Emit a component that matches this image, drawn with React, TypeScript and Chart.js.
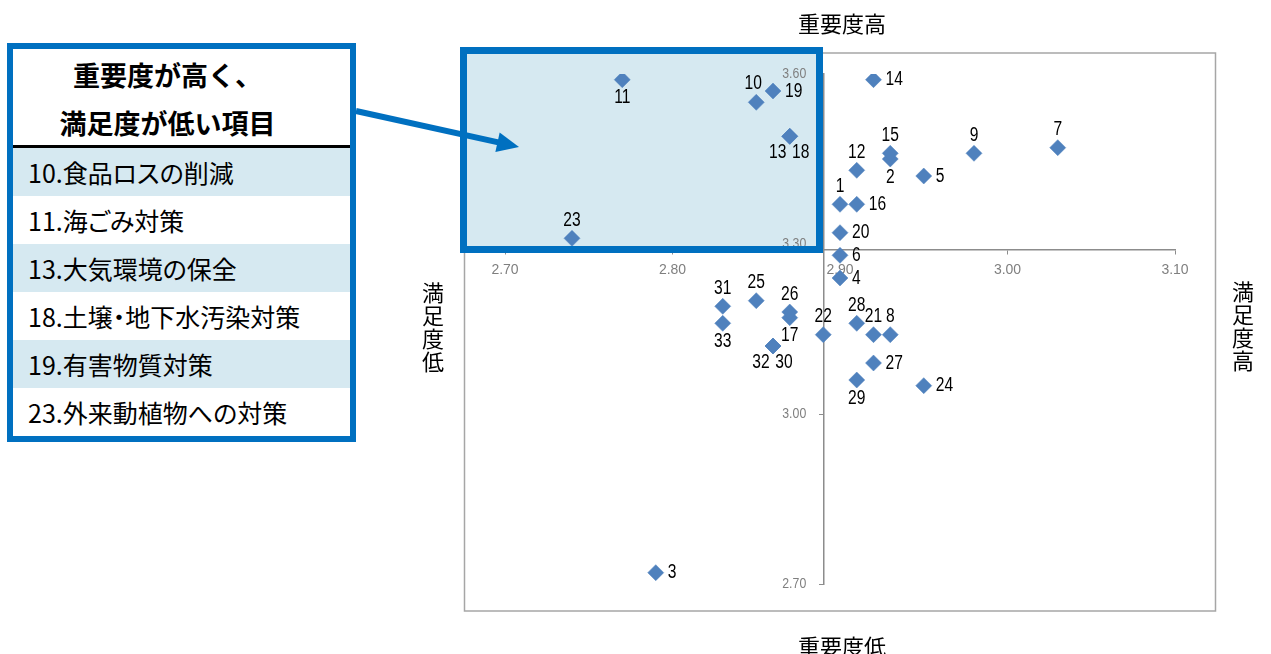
import React, { useEffect, useRef } from "react";
import { Chart, registerables } from "chart.js";

Chart.register(...registerables);

// ---- data ----
const itemIds = [
  1, 2, 3, 4, 5, 6, 7, 8, 9, 10, 11, 12, 13, 14, 15, 16, 17,
  18, 19, 20, 21, 22, 23, 24, 25, 26, 27, 28, 29, 30, 31, 32, 33,
];
// 重要度 (x)
const importance = [
  2.9, 2.93, 2.79, 2.9, 2.95, 2.9, 3.03, 2.93, 2.98, 2.85, 2.77, 2.91, 2.87, 2.92, 2.93, 2.91, 2.87,
  2.87, 2.86, 2.9, 2.92, 2.89, 2.74, 2.95, 2.85, 2.87, 2.92, 2.91, 2.91, 2.86, 2.83, 2.86, 2.83,
];
// 満足度 (y)
const satisfaction = [
  3.37, 3.45, 2.72, 3.24, 3.42, 3.28, 3.47, 3.14, 3.46, 3.55, 3.59, 3.43, 3.49, 3.59, 3.46, 3.37, 3.17,
  3.49, 3.57, 3.32, 3.14, 3.14, 3.31, 3.05, 3.2, 3.18, 3.09, 3.16, 3.06, 3.12, 3.19, 3.12, 3.16,
];
// where each number label sits relative to its marker
const labelPlacement = [
  "t", "b", "r", "r", "r", "r", "t", "t", "t", "tl", "b", "t", "bl", "r", "t", "r", "b",
  "br", "r", "r", "t", "t", "t", "r", "t", "t", "r", "t", "b", "br", "t", "bl", "b",
];
const xMin = 2.7;
const xMax = 3.1;
const xStep = 0.1;
const yMin = 2.7;
const yMax = 3.6;
const yStep = 0.3;
const xCross = 2.89; // where the vertical axis crosses
const yCross = 3.29; // where the horizontal axis crosses

const topTitle = "重要度高";
const bottomTitle = "重要度低";
const leftTitle = "満足度低";
const rightTitle = "満足度高";
const tableHeader = ["重要度が高く、", "満足度が低い項目"];
const tableItems = [
  "10.食品ロスの削減",
  "11.海ごみ対策",
  "13.大気環境の保全",
  "18.土壌・地下水汚染対策",
  "19.有害物質対策",
  "23.外来動植物への対策",
];

// ---- styles ----
const BLUE = "#0070C0";
const LIGHT = "#D6E9F1";
const MARKER = "#4F81BD";
const AXIS = "#8C8C8C";
const TICK_COLOR = "#7F7F7F";
const SANS = "'Liberation Sans', Arial, sans-serif";
const CJK = "'Noto Sans CJK JP', 'Noto Sans', sans-serif";

const offsets: Record<string, { dx: number; dy: number; align: CanvasTextAlign }> = {
  t: { dx: 0, dy: -18, align: "center" },
  b: { dx: 0, dy: 18, align: "center" },
  r: { dx: 12, dy: 0, align: "left" },
  tl: { dx: -3, dy: -19, align: "center" },
  bl: { dx: -12, dy: 16, align: "center" },
  br: { dx: 11, dy: 16, align: "center" },
};

function narrowText(ctx: CanvasRenderingContext2D, text: string, x: number, y: number, sx: number) {
  ctx.save();
  ctx.translate(x, y);
  ctx.scale(sx, 1);
  ctx.fillText(text, 0, 0);
  ctx.restore();
}

const decorPlugin = {
  id: "decor",
  beforeDraw(chart: any) {
    const ctx = chart.ctx as CanvasRenderingContext2D;
    ctx.save();
    ctx.strokeStyle = "#A6A6A6";
    ctx.lineWidth = 1.5;
    ctx.strokeRect(464.5, 53, 751, 558);
    ctx.fillStyle = LIGHT;
    ctx.fillRect(460, 47, 363, 206);
    ctx.restore();
  },
  afterDatasetsDraw(chart: any) {
    const ctx = chart.ctx as CanvasRenderingContext2D;
    ctx.save();
    // y tick labels, left of the crossing vertical axis
    const ys = chart.scales.y;
    const axisX = chart.scales.x.getPixelForValue(xCross);
    ctx.fillStyle = TICK_COLOR;
    ctx.font = `14px ${SANS}`;
    ctx.textAlign = "right";
    ctx.textBaseline = "middle";
    ys.ticks.forEach((t: any) => {
      narrowText(ctx, Number(t.value).toFixed(2), axisX - 17, ys.getPixelForValue(t.value), 0.88);
    });
    // point number labels
    const meta = chart.getDatasetMeta(0);
    ctx.fillStyle = "#000";
    ctx.font = `20px ${SANS}`;
    meta.data.forEach((pt: any, i: number) => {
      const o = offsets[labelPlacement[i]];
      ctx.textAlign = o.align;
      narrowText(ctx, String(itemIds[i]), pt.x + o.dx, pt.y + o.dy, 0.78);
    });
    ctx.restore();
  },
  afterDraw(chart: any) {
    const ctx = chart.ctx as CanvasRenderingContext2D;
    ctx.save();
    // highlight frame
    ctx.strokeStyle = BLUE;
    ctx.lineWidth = 7;
    ctx.strokeRect(463.5, 50.5, 356, 199);
    // arrow
    const x1 = 356, y1 = 111, x2 = 519, y2 = 147;
    const ang = Math.atan2(y2 - y1, x2 - x1);
    const headLen = 22, headHalf = 10;
    const bx = x2 - headLen * Math.cos(ang);
    const by = y2 - headLen * Math.sin(ang);
    ctx.lineWidth = 6;
    ctx.beginPath();
    ctx.moveTo(x1, y1);
    ctx.lineTo(bx + 2 * Math.cos(ang), by + 2 * Math.sin(ang));
    ctx.stroke();
    ctx.fillStyle = BLUE;
    ctx.beginPath();
    ctx.moveTo(x2, y2);
    ctx.lineTo(bx - headHalf * Math.sin(ang), by + headHalf * Math.cos(ang));
    ctx.lineTo(bx + headHalf * Math.sin(ang), by - headHalf * Math.cos(ang));
    ctx.closePath();
    ctx.fill();
    ctx.restore();
  },
};

function VerticalTitle({ text, cx, top }: { text: string; cx: number; top: number }) {
  return (
    <div
      style={{
        position: "absolute",
        left: cx - 15,
        top,
        width: 30,
        textAlign: "center",
        fontFamily: CJK,
        fontSize: 22,
        lineHeight: "23px",
        color: "#000",
      }}
    >
      {text.split("").map((c, i) => (
        <div key={i}>{c}</div>
      ))}
    </div>
  );
}

export default function App() {
  const ref = useRef<HTMLCanvasElement>(null);
  useEffect(() => {
    const chart = new Chart(ref.current as HTMLCanvasElement, {
      type: "scatter",
      data: {
        datasets: [
          {
            data: importance.map((x, i) => ({ x, y: satisfaction[i] })),
            pointStyle: "rectRot",
            pointRadius: 8,
            backgroundColor: MARKER,
            borderColor: MARKER,
            borderWidth: 0.5,
          },
        ],
      },
      options: {
        responsive: false,
        animation: false,
        devicePixelRatio: 1,
        layout: { padding: { left: 505, right: 96, top: 74, bottom: 70 } },
        plugins: { legend: { display: false }, tooltip: { enabled: false } },
        scales: {
          x: {
            type: "linear",
            min: xMin,
            max: xMax,
            position: { y: yCross } as any,
            ticks: {
              stepSize: xStep,
              callback: (v: any) => Number(v).toFixed(2),
              font: { family: SANS, size: 14 },
              color: TICK_COLOR,
              padding: 8,
              maxRotation: 0,
            },
            grid: { drawOnChartArea: false, drawTicks: true, tickLength: 4, color: AXIS },
            border: { color: AXIS, width: 1.5 },
          },
          y: {
            type: "linear",
            min: yMin,
            max: yMax,
            position: { x: xCross } as any,
            ticks: { stepSize: yStep, display: false },
            grid: { drawOnChartArea: false, drawTicks: true, tickLength: 4, color: AXIS },
            border: { color: AXIS, width: 1.5 },
          },
        },
      },
      plugins: [decorPlugin],
    });
    return () => chart.destroy();
  }, []);

  return (
    <div style={{ position: "absolute", left: 0, top: 0, width: 1271, height: 654, overflow: "hidden", background: "#fff" }}>
      <canvas ref={ref} width={1271} height={654} style={{ position: "absolute", left: 0, top: 0, width: 1271, height: 654 }} />
      <div style={{ position: "absolute", left: 792, top: 9, width: 100, textAlign: "center", fontFamily: CJK, fontSize: 22, lineHeight: "26px" }}>
        {topTitle}
      </div>
      <div style={{ position: "absolute", left: 792, top: 632, width: 100, textAlign: "center", fontFamily: CJK, fontSize: 22, lineHeight: "26px" }}>
        {bottomTitle}
      </div>
      <VerticalTitle text={leftTitle} cx={433} top={280} />
      <VerticalTitle text={rightTitle} cx={1243} top={279} />
      <div
        style={{
          position: "absolute",
          left: 7,
          top: 43,
          width: 349,
          height: 399,
          boxSizing: "border-box",
          border: `6px solid ${BLUE}`,
          background: "#fff",
          fontFamily: CJK,
          color: "#000",
        }}
      >
        <div style={{ height: 96, borderBottom: "3px solid #000", textAlign: "center", fontWeight: 700, fontSize: 27, paddingRight: 28 }}>
          <div style={{ height: 52, lineHeight: "52px" }}>{tableHeader[0]}</div>
          <div style={{ height: 44, lineHeight: "44px" }}>{tableHeader[1]}</div>
        </div>
        {tableItems.map((t, i) => (
          <div
            key={i}
            style={{
              height: 48,
              lineHeight: "48px",
              fontSize: 25,
              paddingLeft: 15,
              background: i % 2 === 0 ? LIGHT : "#fff",
              whiteSpace: "nowrap",
              fontFeatureSettings: '"palt"',
            }}
          >
            {t}
          </div>
        ))}
      </div>
    </div>
  );
}
